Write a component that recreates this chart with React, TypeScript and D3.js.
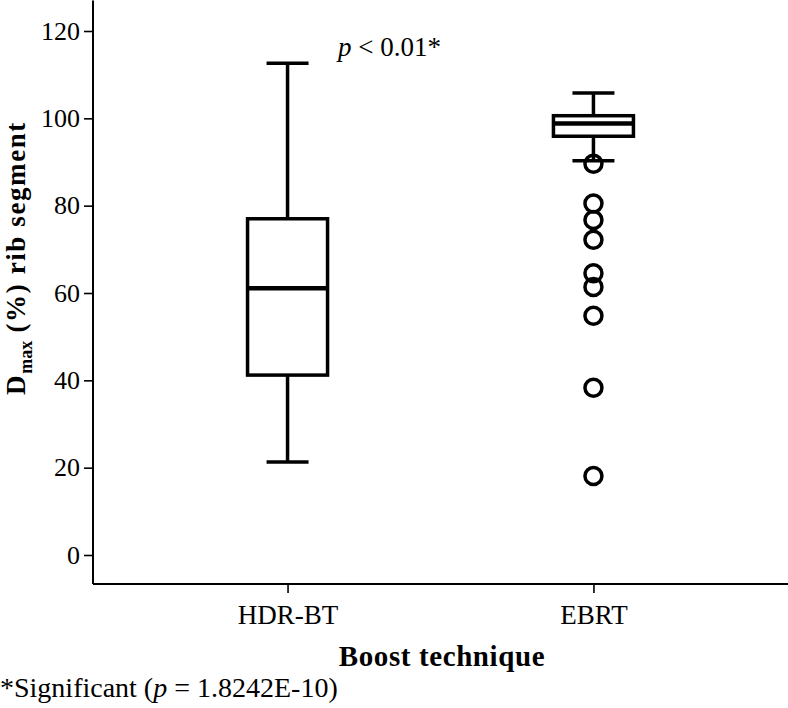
import React, { useRef, useEffect } from "react";
import { select, scaleLinear, scalePoint, axisLeft, axisBottom } from "d3";

// box stats
const groups = ["HDR-BT", "EBRT"];
const whiskerLow = [21.3, 90.3];
const q1 = [41.2, 95.9];
const median = [61.1, 98.8];
const q3 = [77.0, 100.6];
const whiskerHigh = [112.6, 105.8];
const ebrtOutliers = [89.6, 80.5, 76.7, 72.2, 64.5, 61.4, 54.8, 38.3, 18.1];
const yTicks = [0, 20, 40, 60, 80, 100, 120];

const FONT = "'Liberation Serif', 'Times New Roman', serif";

function BoxChart() {
  const svgRef = useRef<SVGSVGElement>(null);

  useEffect(() => {
    const svg = select(svgRef.current);
    svg.selectAll("*").remove();

    const left = 93, bottom = 584, right = 788;

    const yScale = scaleLinear().domain([0, 120]).range([555, 31]);
    const xScale = scalePoint().domain(groups).range([left, right]).padding(0.636);

    // y axis
    const yAxis = axisLeft(yScale).tickValues(yTicks).tickSize(9).tickPadding(4);
    const gy = svg.append("g").attr("transform", `translate(${left},0)`).call(yAxis);
    gy.select(".domain").remove();
    gy.selectAll("line").attr("stroke", "#000").attr("stroke-width", 1.6);
    gy.selectAll("text").attr("font-family", FONT).attr("font-size", 26).attr("fill", "#000");

    // x axis
    const xAxis = axisBottom(xScale).tickSize(9).tickPadding(12);
    const gx = svg.append("g").attr("transform", `translate(0,${bottom})`).call(xAxis);
    gx.select(".domain").remove();
    gx.selectAll("line").attr("stroke", "#000").attr("stroke-width", 1.6);
    gx.selectAll("text").attr("font-family", FONT).attr("font-size", 27).attr("fill", "#000");

    // spines
    svg.append("line")
      .attr("x1", left).attr("x2", left)
      .attr("y1", yScale(127)).attr("y2", bottom)
      .attr("stroke", "#000").attr("stroke-width", 2);
    svg.append("line")
      .attr("x1", left).attr("x2", right)
      .attr("y1", bottom).attr("y2", bottom)
      .attr("stroke", "#000").attr("stroke-width", 2);

    const boxW = 80, capW = 42;
    groups.forEach((g, i) => {
      const cx = xScale(g)!;
      const gg = svg.append("g").attr("stroke", "#000").attr("fill", "none");
      // whiskers
      gg.append("line").attr("x1", cx).attr("x2", cx)
        .attr("y1", yScale(whiskerHigh[i])).attr("y2", yScale(q3[i])).attr("stroke-width", 3.5);
      gg.append("line").attr("x1", cx).attr("x2", cx)
        .attr("y1", yScale(q1[i])).attr("y2", yScale(whiskerLow[i])).attr("stroke-width", 3.5);
      gg.append("line").attr("x1", cx - capW / 2).attr("x2", cx + capW / 2)
        .attr("y1", yScale(whiskerHigh[i])).attr("y2", yScale(whiskerHigh[i])).attr("stroke-width", 3.5);
      gg.append("line").attr("x1", cx - capW / 2).attr("x2", cx + capW / 2)
        .attr("y1", yScale(whiskerLow[i])).attr("y2", yScale(whiskerLow[i])).attr("stroke-width", 3.5);
      // box
      gg.append("rect")
        .attr("x", cx - boxW / 2).attr("width", boxW)
        .attr("y", yScale(q3[i])).attr("height", yScale(q1[i]) - yScale(q3[i]))
        .attr("fill", "#fff").attr("stroke-width", 3.5);
      gg.append("line").attr("x1", cx - boxW / 2).attr("x2", cx + boxW / 2)
        .attr("y1", yScale(median[i])).attr("y2", yScale(median[i])).attr("stroke-width", 4.5);
    });

    // outliers
    const ex = xScale("EBRT")!;
    svg.append("g").selectAll("circle")
      .data(ebrtOutliers)
      .join("circle")
      .attr("cx", ex)
      .attr("cy", d => yScale(d))
      .attr("r", 8.5)
      .attr("fill", "none")
      .attr("stroke", "#000")
      .attr("stroke-width", 3.5);

    // significance annotation
    const ann = svg.append("text")
      .attr("x", 338).attr("y", 56)
      .attr("font-family", FONT).attr("font-size", 27).attr("fill", "#000");
    ann.append("tspan").attr("font-style", "italic").text("p");
    ann.append("tspan").text(" < 0.01*");

    // axis titles
    svg.append("text")
      .attr("x", 442).attr("y", 666)
      .attr("text-anchor", "middle")
      .attr("font-family", FONT).attr("font-size", 29).attr("font-weight", "bold")
      .attr("letter-spacing", 0.6)
      .text("Boost technique");

    const yl = svg.append("text")
      .attr("transform", `translate(25,${258}) rotate(-90)`)
      .attr("text-anchor", "middle")
      .attr("font-family", FONT).attr("font-size", 27).attr("font-weight", "bold");
    yl.append("tspan").attr("letter-spacing", 1.6).text("D");
    yl.append("tspan").attr("font-size", 18).attr("dy", 7).attr("letter-spacing", 0).text("max");
    yl.append("tspan").attr("dy", -7).attr("letter-spacing", 1.6).text(" (%) rib segment");

    // footnote
    const fn = svg.append("text")
      .attr("x", 0).attr("y", 697)
      .attr("font-family", FONT).attr("font-size", 28);
    fn.append("tspan").text("*Significant (");
    fn.append("tspan").attr("font-style", "italic").text("p");
    fn.append("tspan").text(" = 1.8242E-10)");
  }, []);

  return (
    <svg ref={svgRef} width={788} height={708}
      style={{ position: "absolute", left: 0, top: 0, background: "#fff" }} />
  );
}

export default function App() {
  return <BoxChart />;
}
